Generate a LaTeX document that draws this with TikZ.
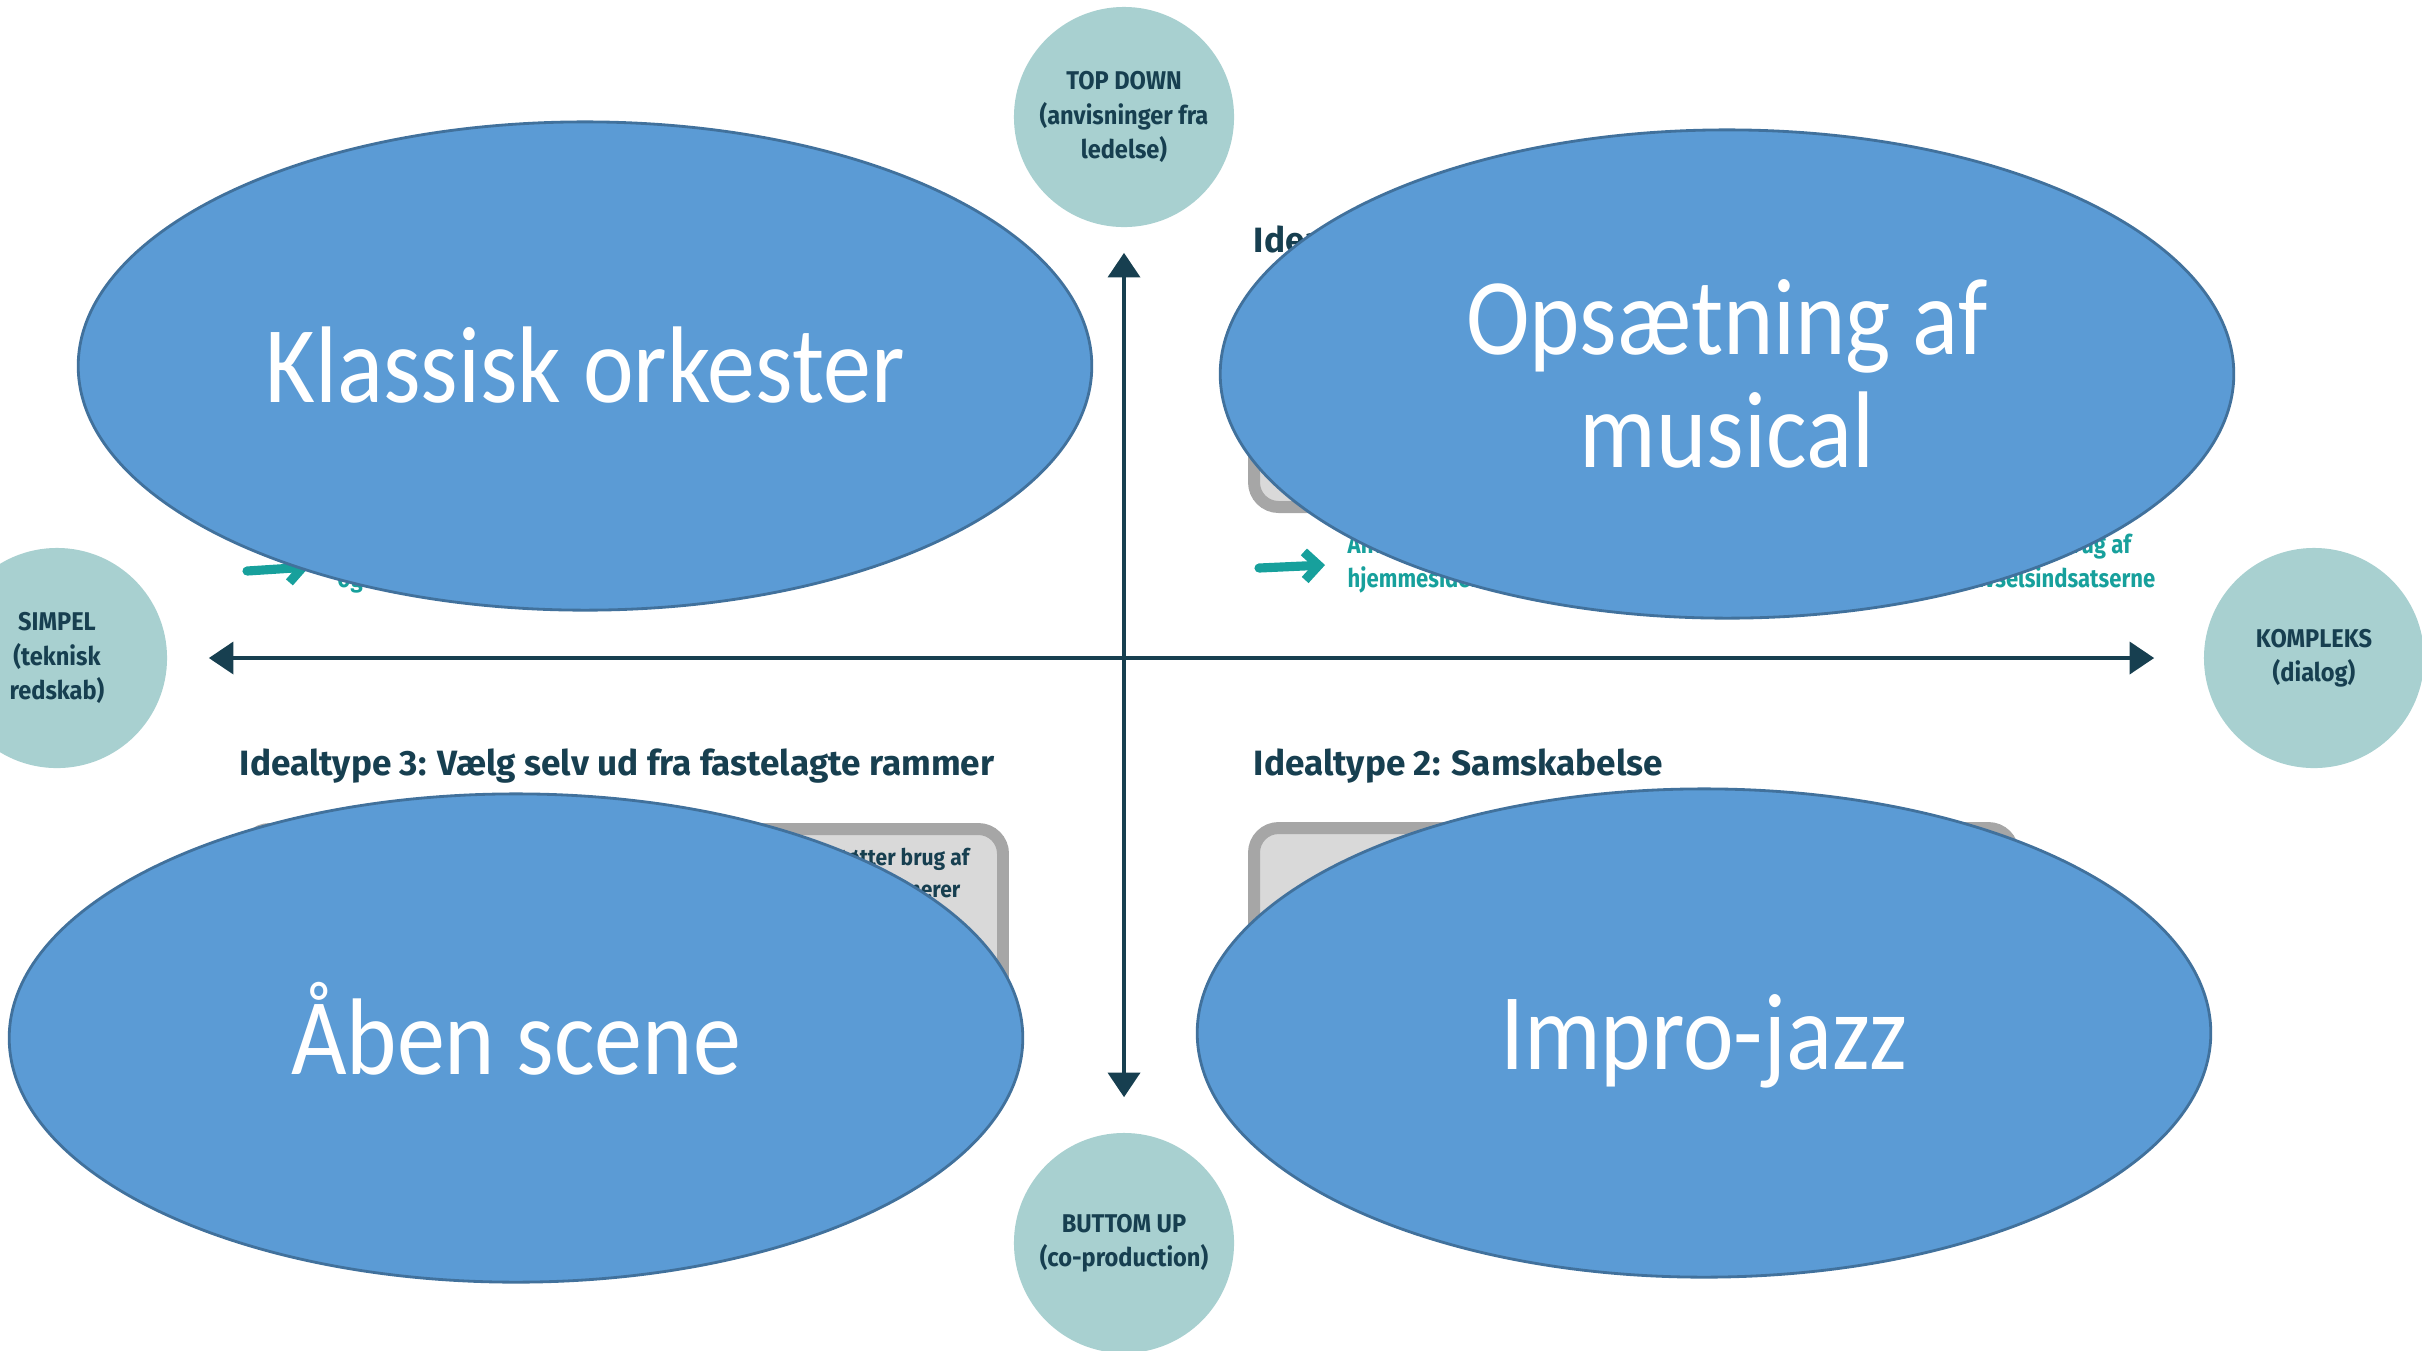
\documentclass[tikz,border=0pt]{standalone}
\usepackage{fontspec}
\usepackage{tikz}
\usetikzlibrary{shapes.geometric,arrows.meta}
\setmainfont{Fira Sans}
\newfontfamily\ovalfont{Carlito}[FakeStretch=0.88]
\newfontfamily\headfont{Fira Sans}[FakeStretch=0.92]
\newfontfamily\titlefont{Fira Sans}
\newfontfamily\hintfont{Fira Sans}[FakeStretch=0.86]
\definecolor{ovalblue}{HTML}{5B9BD5}
\definecolor{ovaledge}{HTML}{41719C}
\definecolor{polefill}{HTML}{A8D0D0}
\definecolor{navy}{HTML}{173F50}
\definecolor{arrowteal}{HTML}{17A09C}
\definecolor{boxgray}{HTML}{D9D9D9}
\definecolor{boxedge}{HTML}{A6A6A6}
\begin{document}
\begin{tikzpicture}[x=0.01cm,y=-0.01cm,
oval/.style={ellipse,draw=ovaledge,line width=0.8pt,fill=ovalblue,minimum width=10.13cm,minimum height=4.88cm,inner sep=0pt,text=white,align=center,font=\ovalfont\fontsize{31}{32}\selectfont},
oneline/.style={text height=26pt,text depth=5pt},
pole/.style={circle,fill=polefill,minimum size=2.2cm,inner sep=0pt,text=navy,align=center,font=\headfont\bfseries\fontsize{7.3}{9.7}\selectfont},
quadhead/.style={anchor=base west,inner sep=0pt,text=navy,font=\titlefont\bfseries\fontsize{10}{11}\selectfont},
hint/.style={inner sep=0pt,text=arrowteal,font=\hintfont\bfseries\fontsize{7.3}{8}\selectfont},
boxtext/.style={anchor=base east,inner sep=0pt,text=navy,font=\headfont\bfseries\fontsize{6.5}{8}\selectfont},
panel/.style={draw=boxedge,fill=boxgray,line width=3.4pt,rounded corners=7pt},
axis/.style={draw=navy,line width=1.4pt,{Triangle[width=9pt,length=7pt]}-{Triangle[width=9pt,length=7pt]}},
pointer/.style={draw=arrowteal,line width=2.6pt,line cap=round,-{Straight Barb[length=4pt,width=8pt]}}]
\useasboundingbox (0,0) rectangle (2422,1350);
\clip (0,0) rectangle (2422,1350);
\draw[panel] (245,306) rectangle (1003,507);
\draw[panel] (1254,306) rectangle (2013,507);
\draw[panel] (245,829) rectangle (1003,1030);
\draw[panel] (1254,828) rectangle (2013,1029);
\node[quadhead] (headone) at (1253,252) {Idealtype 1};
\node[quadhead] (headthree) at (239,775) {Idealtype 3: Vælg selv ud fra fastelagte rammer};
\node[quadhead] (headtwo) at (1253,775) {Idealtype 2: Samskabelse};
\node[hint,anchor=base west] (hintog) at (337,587) {og};
\node[hint,anchor=base west] (hintan) at (1347,553) {Anvendelse af};
\node[hint,anchor=base west] (hinthjem) at (1347,587) {hjemmesiden};
\node[hint,anchor=base east] (hintbrug) at (2132,553) {brug af};
\node[hint,anchor=base east] (hinttriv) at (2156,587) {trivselsindsatserne};
\coordinate (tailtl) at (247,571);
\coordinate (tiptl) at (309,567);
\coordinate (tailtr) at (1259,568);
\coordinate (tiptr) at (1325,565);
\draw[pointer] (tailtl) -- (tiptl);
\draw[pointer] (tailtr) -- (tiptr);
\node[boxtext] (boxlineone) at (970,865) {understøtter brug af};
\node[boxtext] (boxlinetwo) at (961,897) {definerer};
\node[pole] (top) at (1124,117) {TOP DOWN\\(anvisninger fra\\ledelse)};
\node[pole] (bottom) at (1124,1243) {BUTTOM UP\\(co-production)};
\node[pole] (left) at (57,658) {SIMPEL\\(teknisk\\redskab)};
\node[pole] (right) at (2314,658) {KOMPLEKS\\(dialog)};
\draw[axis,shorten <=0.41cm,shorten >=0.49cm] (left) -- (right);
\draw[axis,shorten <=0.25cm,shorten >=0.35cm] (top) -- (bottom);
\node[oval,oneline] (klassisk) at (585,366) {Klassisk orkester};
\node[oval] (musical) at (1727,374) {Opsætning af\\musical};
\node[oval,oneline] (scene) at (516,1038) {Åben scene};
\node[oval,oneline] (jazz) at (1704,1033) {Impro-jazz};
\end{tikzpicture}
\end{document}
